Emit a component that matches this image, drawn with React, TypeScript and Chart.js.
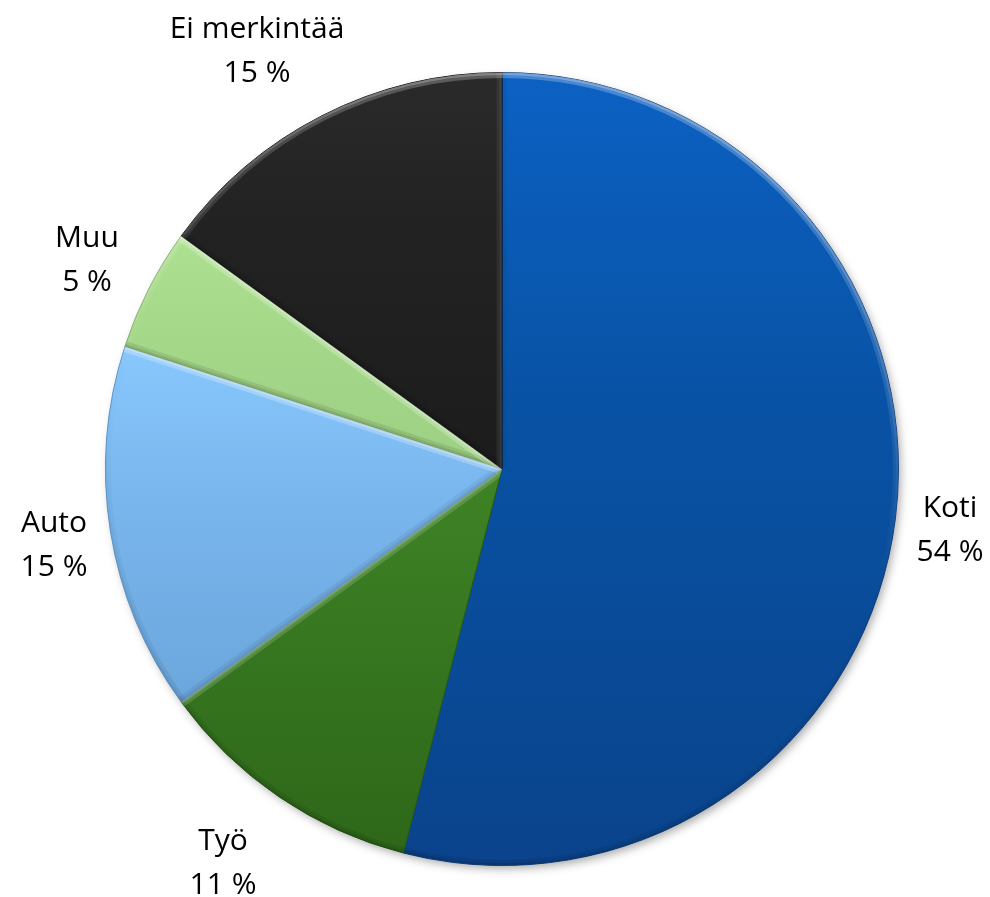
import React, { useEffect, useRef } from "react";
import { Chart, registerables } from "chart.js";

Chart.register(...registerables);

// ---- data ----
const categories = ["Koti", "Työ", "Auto", "Muu", "Ei merkintää"];
const shares = [54, 11, 15, 5, 15];

// ---- styles ----
const topColors = ["#0c61c3", "#3f8326", "#88c8fd", "#aee092", "#2a2a2a"];
const midColors = ["#0853a6", "#377820", "#7ab7ee", "#a6d88a", "#222222"];
const bottomColors = ["#0a438b", "#2e6719", "#6ba6dc", "#9dd083", "#1c1c1c"];
const borderColors = ["#0a3b7a", "#265a14", "#5f96c8", "#7fae66", "#111111"];
// label block centre relative to the pie centre (px)
const labelOffsets: [number, number][] = [
  [448, 59.5],
  [-279, 392],
  [-448, 74],
  [-415, -210.5],
  [-245, -419.5],
];

const LIGHT = [0.25, -0.97];

function shade(l: number): string {
  return l >= 0
    ? `rgba(255,255,255,${(0.5 * l).toFixed(3)})`
    : `rgba(0,0,0,${(-0.18 * l).toFixed(3)})`;
}

function sliceGradient(c: any) {
  const i = c.dataIndex ?? 0;
  const chart = c.chart;
  const area = chart.chartArea;
  if (!area) return topColors[i];
  const cx = (area.left + area.right) / 2;
  const cy = (area.top + area.bottom) / 2;
  const R = Math.min(area.right - area.left, area.bottom - area.top) / 2;
  const total = shares.reduce((a, b) => a + b, 0);
  let cum = 0;
  for (let k = 0; k < i; k++) cum += shares[k];
  const s = -Math.PI / 2 + (2 * Math.PI * cum) / total;
  const e = s + (2 * Math.PI * shares[i]) / total;
  let minY = cy;
  let maxY = cy;
  for (let k = 0; k <= 60; k++) {
    const a = s + ((e - s) * k) / 60;
    const yy = cy + Math.sin(a) * R;
    minY = Math.min(minY, yy);
    maxY = Math.max(maxY, yy);
  }
  const g = chart.ctx.createLinearGradient(0, minY, 0, maxY + 0.001);
  g.addColorStop(0, topColors[i]);
  g.addColorStop(0.4, midColors[i]);
  g.addColorStop(1, bottomColors[i]);
  return g;
}

const bevelPlugin = {
  id: "bevel",
  beforeDatasetsDraw(chart: any) {
    const meta = chart.getDatasetMeta(0);
    const el = meta.data[0];
    if (!el) return;
    const { x, y, outerRadius } = el.getProps(["x", "y", "outerRadius"], true);
    const ctx = chart.ctx;
    ctx.save();
    ctx.shadowColor = "rgba(0,0,0,0.35)";
    ctx.shadowBlur = 10;
    ctx.shadowOffsetX = 3;
    ctx.shadowOffsetY = 4;
    ctx.fillStyle = "#ffffff";
    ctx.beginPath();
    ctx.arc(x, y, outerRadius - 1, 0, Math.PI * 2);
    ctx.fill();
    ctx.restore();
  },
  afterDatasetsDraw(chart: any) {
    const ctx = chart.ctx;
    const meta = chart.getDatasetMeta(0);
    meta.data.forEach((arc: any) => {
      const { x, y, startAngle: s, endAngle: e, outerRadius: R } = arc.getProps(
        ["x", "y", "startAngle", "endAngle", "outerRadius"],
        true
      );
      ctx.save();
      ctx.beginPath();
      ctx.moveTo(x, y);
      ctx.arc(x, y, R, s, e);
      ctx.closePath();
      ctx.clip();
      const widths = [11, 5];
      widths.forEach((w) => {
        ctx.lineWidth = w;
        const cg = (ctx as any).createConicGradient(0, x, y);
        for (let k = 0; k <= 36; k++) {
          const t = k / 36;
          const a = t * 2 * Math.PI;
          const l = Math.cos(a) * LIGHT[0] + Math.sin(a) * LIGHT[1];
          cg.addColorStop(t, shade(l * 0.5));
        }
        ctx.strokeStyle = cg;
        ctx.beginPath();
        ctx.arc(x, y, R, s, e);
        ctx.stroke();
        const n1 = [Math.sin(s), -Math.cos(s)];
        ctx.strokeStyle = shade((n1[0] * LIGHT[0] + n1[1] * LIGHT[1]) * 0.5);
        ctx.beginPath();
        ctx.moveTo(x, y);
        ctx.lineTo(x + Math.cos(s) * R, y + Math.sin(s) * R);
        ctx.stroke();
        const n2 = [-Math.sin(e), Math.cos(e)];
        ctx.strokeStyle = shade((n2[0] * LIGHT[0] + n2[1] * LIGHT[1]) * 0.5);
        ctx.beginPath();
        ctx.moveTo(x, y);
        ctx.lineTo(x + Math.cos(e) * R, y + Math.sin(e) * R);
        ctx.stroke();
      });
      ctx.restore();
    });
  },
};

const labelPlugin = {
  id: "outerLabels",
  afterDraw(chart: any) {
    const ctx = chart.ctx;
    const meta = chart.getDatasetMeta(0);
    ctx.save();
    ctx.font = "30px 'Open Sans', 'DejaVu Sans', sans-serif";
    ctx.fillStyle = "#000000";
    ctx.textAlign = "center";
    ctx.textBaseline = "alphabetic";
    meta.data.forEach((arc: any, i: number) => {
      const lx = arc.x + labelOffsets[i][0];
      const ly = arc.y + labelOffsets[i][1];
      ctx.fillText(categories[i], lx, ly - 11.5);
      ctx.fillText(`${shares[i]} %`, lx, ly + 32.5);
    });
    ctx.restore();
  },
};

export default function App() {
  const ref = useRef<HTMLCanvasElement>(null);
  useEffect(() => {
    const chart = new Chart(ref.current as HTMLCanvasElement, {
      type: "pie",
      data: {
        labels: categories,
        datasets: [
          {
            data: shares,
            backgroundColor: (c: any) => sliceGradient(c),
            borderColor: borderColors,
            borderWidth: 1,
            hoverOffset: 0,
            offset: 0,
          } as any,
        ],
      },
      options: {
        responsive: false,
        animation: false,
        events: [],
        layout: { padding: { left: 105, right: 91, top: 72, bottom: 31 } },
        plugins: {
          legend: { display: false },
          tooltip: { enabled: false },
        },
      },
      plugins: [bevelPlugin, labelPlugin],
    });
    return () => chart.destroy();
  }, []);
  return (
    <div>
      <canvas
        ref={ref}
        width={990}
        height={897}
        style={{ display: "block", position: "absolute", left: 0, top: 0 }}
      />
    </div>
  );
}
